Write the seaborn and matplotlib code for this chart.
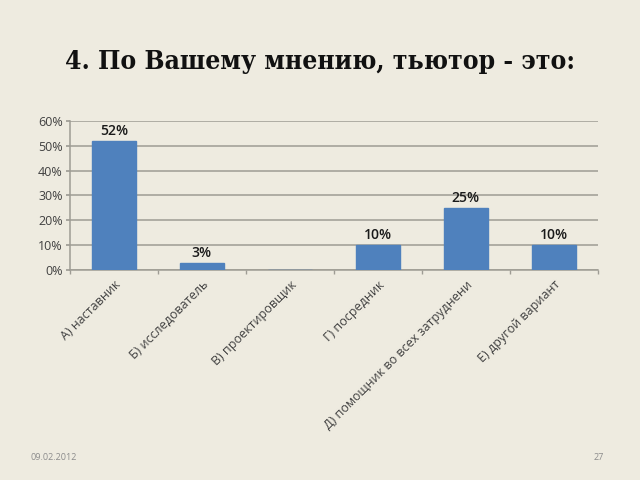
import matplotlib
matplotlib.use("Agg")
import matplotlib.pyplot as plt
import seaborn as sns
import pandas as pd
from matplotlib.ticker import PercentFormatter

categories = ["А) наставник", "Б) исследователь", "В) проектировщик",
              "Г) посредник", "Д) помощник во всех затруднени", "Е) другой вариант"]
values = [0.52, 0.03, 0.0, 0.10, 0.25, 0.10]
value_labels = ["52%", "3%", "", "10%", "25%", "10%"]
yticks = [0, 0.1, 0.2, 0.3, 0.4, 0.5, 0.6]

bg = "#EEEBE0"
sns.set_theme(style="white")
plt.rcParams['font.family'] = ['Open Sans', 'DejaVu Sans']

df = pd.DataFrame({"cat": categories, "val": values})

fig = plt.figure(figsize=(6.4, 4.8), dpi=100, facecolor=bg)
ax = fig.add_axes([0.109, 0.4375, 0.825, 0.3105])
ax.set_facecolor(bg)

sns.barplot(data=df, x="cat", y="val", color="#4F81BD", width=0.5,
            saturation=1, ax=ax, edgecolor="#4F81BD", zorder=3)

ax.set_ylim(0, 0.6)
ax.set_xlim(-0.5, len(categories) - 0.5)
ax.set_yticks(yticks)
ax.yaxis.set_major_formatter(PercentFormatter(1.0, decimals=0))
ax.grid(axis="y", color="#9E9C94", linewidth=1.1, zorder=0)
ax.set_xlabel("")
ax.set_ylabel("")

for s in ["top", "right"]:
    ax.spines[s].set_visible(False)
for s in ["left", "bottom"]:
    ax.spines[s].set_color("#9E9C94")
    ax.spines[s].set_linewidth(1.1)

ax.set_xticks(range(len(categories)))
ax.set_xticklabels(categories, rotation=45, ha="right", rotation_mode="anchor",
                   fontsize=9, color="#404040")
ax.tick_params(axis="x", length=0, pad=6)
ax.tick_params(axis="y", length=3, color="#9E9C94", labelsize=9, labelcolor="#404040", pad=2, left=True)
ax.set_xticks([i + 0.5 for i in range(-1, len(categories))], minor=True)
ax.tick_params(axis="x", which="minor", length=3, color="#9E9C94", bottom=True)

for i, (v, lab) in enumerate(zip(values, value_labels)):
    if lab:
        ax.text(i, v + 0.012, lab, ha="center", va="bottom", fontsize=10,
                color="#1a1a1a", fontweight="semibold")

fig.text(0.5, 0.872, "4. По Вашему мнению, тьютор - это:", ha="center", va="center",
         fontsize=19, fontweight="bold", family=["DejaVu Serif"], fontstretch="condensed",
         color="#111111")
fig.text(0.047, 0.047, "09.02.2012", fontsize=6.5, color="#8C8C8C", va="center")
fig.text(0.927, 0.047, "27", fontsize=6.5, color="#8C8C8C", va="center")

fig.savefig("out.png", dpi=100, facecolor=bg)
